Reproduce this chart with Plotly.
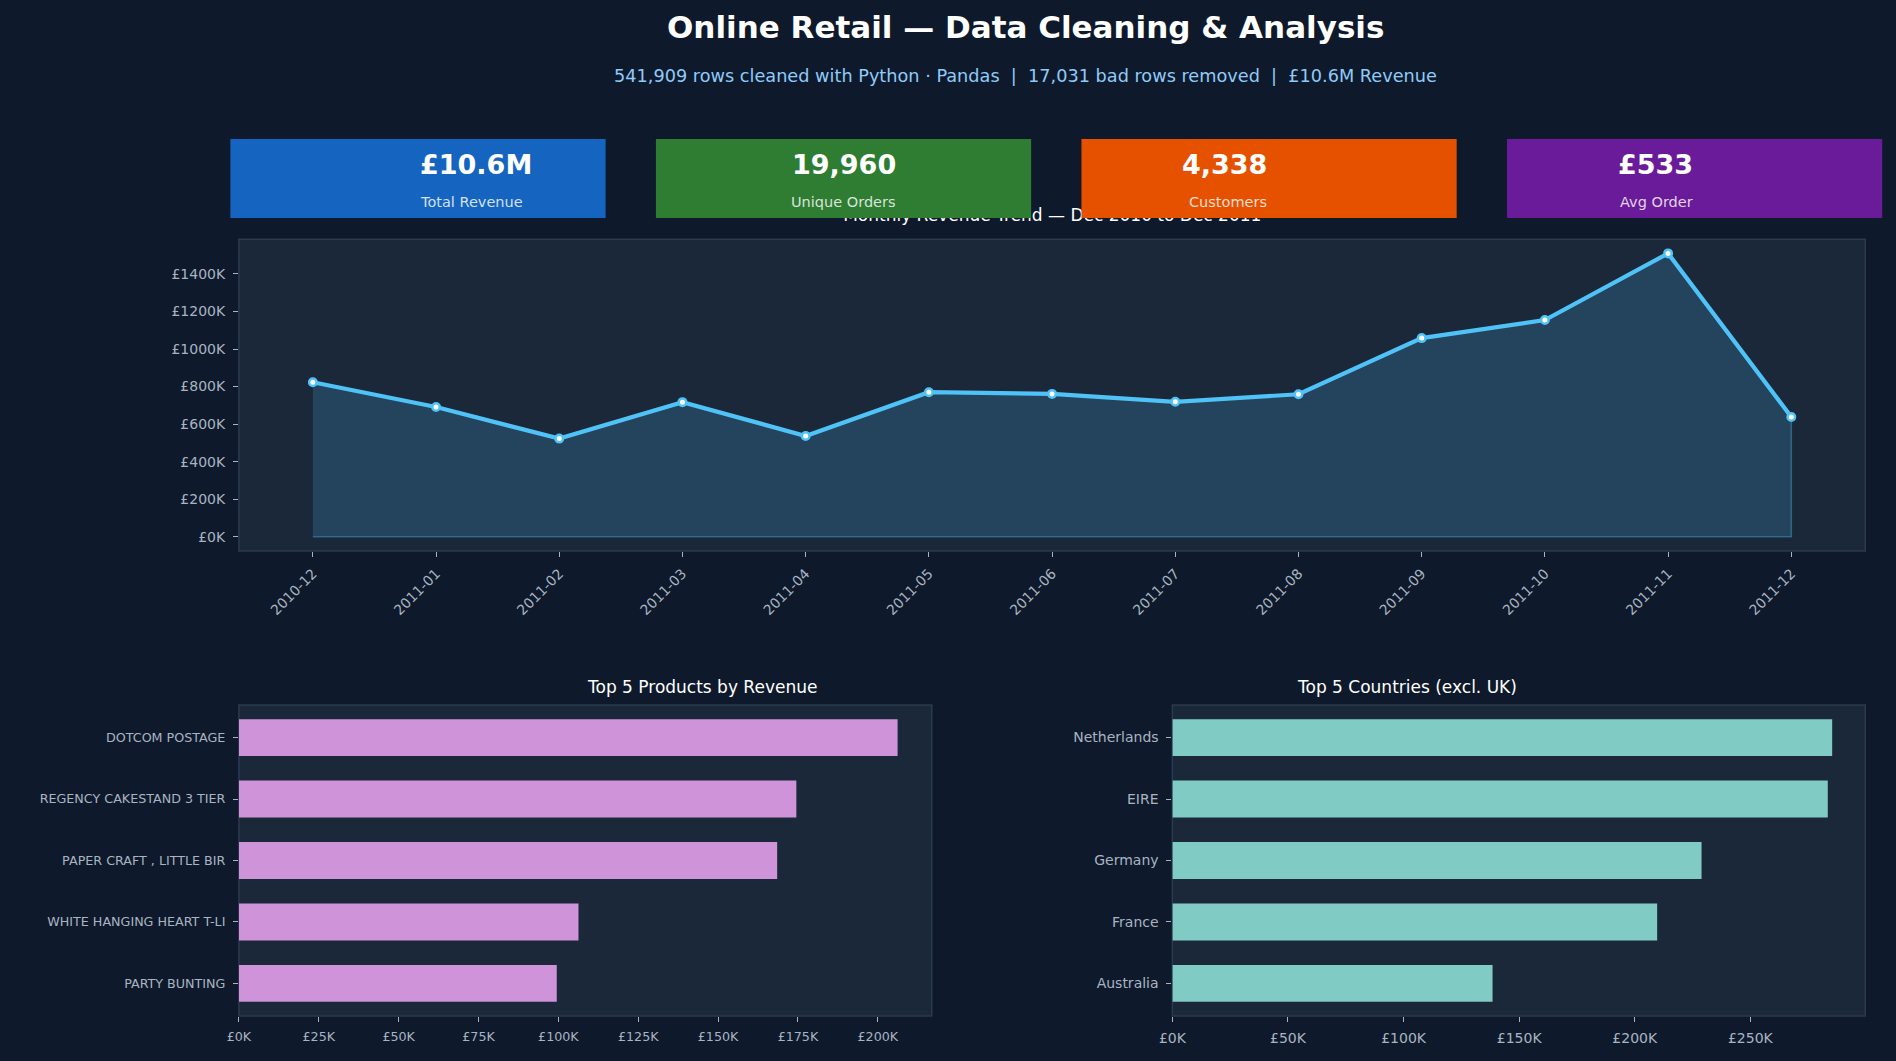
""" Online Retail dashboard - plotly version """

import plotly.graph_objects as go

# monthly revenue in £K
months = ["2010-12", "2011-01", "2011-02", "2011-03", "2011-04", "2011-05", "2011-06",
          "2011-07", "2011-08", "2011-09", "2011-10", "2011-11", "2011-12"]
monthly_revenue = [823, 691, 523, 717, 537, 770, 761, 719, 759, 1058, 1154, 1509, 638]

# top products (£K)
products = ["DOTCOM POSTAGE", "REGENCY CAKESTAND 3 TIER", "PAPER CRAFT , LITTLE BIR",
            "WHITE HANGING HEART T-LI", "PARTY BUNTING"]
product_revenue = [206.2, 174.5, 168.5, 106.3, 99.5]

# top countries excl. UK (£K)
countries = ["Netherlands", "EIRE", "Germany", "France", "Australia"]
country_revenue = [285.4, 283.5, 228.9, 209.7, 138.5]

# KPI cards
kpi_values = ["£10.6M", "19,960", "4,338", "£533"]
kpi_labels = ["Total Revenue", "Unique Orders", "Customers", "Avg Order"]
kpi_colors = ["#1565c0", "#2e7d32", "#e65100", "#6a1b9a"]

BG = "#0e1a2b"
PANEL = "#1b283a"
EDGE = "#2b3a4f"
TICK = "#a9b4c2"
FONT = "DejaVu Sans"
W, H = 1896, 1061


def px_x(v):
    return v / W


def px_y(v):
    return 1 - v / H


fig = go.Figure()

# monthly trend: filled area polygon + line
fig.add_trace(go.Scatter(
    x=months + [months[-1], months[0]],
    y=monthly_revenue + [0, 0],
    fill="toself", fillcolor="rgba(79,195,247,0.18)",
    line=dict(color="rgba(79,195,247,0.35)", width=1.5),
    mode="lines", hoverinfo="skip", xaxis="x", yaxis="y"))
fig.add_trace(go.Scatter(
    x=months, y=monthly_revenue, mode="lines+markers",
    line=dict(color="#4fc3f7", width=4.2),
    marker=dict(size=7.5, color="white", line=dict(color="#4fc3f7", width=2.5)),
    xaxis="x", yaxis="y"))

fig.add_trace(go.Bar(x=product_revenue, y=products, orientation="h",
                     marker=dict(color="#ce93d8", line=dict(width=0)),
                     xaxis="x2", yaxis="y2"))
fig.add_trace(go.Bar(x=country_revenue, y=countries, orientation="h",
                     marker=dict(color="#80cbc4", line=dict(width=0)),
                     xaxis="x3", yaxis="y3"))

# line chart title sits under the KPI cards, so it's a text trace on an overlay axis
fig.add_trace(go.Scatter(
    x=[px_x(1046)], y=[px_y(217)], mode="text",
    text=["Monthly Revenue Trend — Dec 2010 to Dec 2011"],
    textposition="middle center",
    textfont=dict(family=FONT, size=17, color="white"),
    cliponaxis=False, hoverinfo="skip", xaxis="x4", yaxis="y4"))

tickfont = dict(family=FONT, size=14, color=TICK)
small_tickfont = dict(family=FONT, size=12.7, color=TICK)
axis_common = dict(showgrid=False, zeroline=False, showline=False, ticks="outside",
                   ticklen=5, tickwidth=1.2, tickcolor=TICK, fixedrange=True)

fig.update_layout(
    width=W, height=H,
    margin=dict(l=0, r=0, t=0, b=0),
    paper_bgcolor=BG, plot_bgcolor="rgba(0,0,0,0)",
    showlegend=False, bargap=0.4,
    font=dict(family=FONT, color="white"),
    xaxis=dict(axis_common, domain=[px_x(226.6), px_x(1865)], anchor="y",
               type="category", range=[-0.6, 12.6], tickangle=-45, tickfont=tickfont,
               ticklabelstandoff=3),
    yaxis=dict(axis_common, domain=[px_y(551), px_y(239.3)], anchor="x",
               range=[-75.4, 1584], tickvals=list(range(0, 1401, 200)),
               ticktext=["£%dK" % v for v in range(0, 1401, 200)], tickfont=tickfont,
               ticklabelstandoff=5),
    xaxis2=dict(axis_common, domain=[px_x(226.6), px_x(924.6)], anchor="y2",
                range=[0, 216.9], tickvals=list(range(0, 201, 25)),
                ticktext=["£%dK" % v for v in range(0, 201, 25)], tickfont=small_tickfont,
                ticklabelstandoff=4),
    yaxis2=dict(axis_common, domain=[px_y(1016), px_y(705)], anchor="x2",
                type="category", range=[4.53, -0.53], tickfont=small_tickfont,
                ticklabelstandoff=5),
    xaxis3=dict(axis_common, domain=[px_x(1167), px_x(1865)], anchor="y3",
                range=[0, 299.7], tickvals=list(range(0, 251, 50)),
                ticktext=["£%dK" % v for v in range(0, 251, 50)], tickfont=tickfont,
                ticklabelstandoff=4),
    yaxis3=dict(axis_common, domain=[px_y(1016), px_y(705)], anchor="x3",
                type="category", range=[4.53, -0.53], tickfont=tickfont,
                ticklabelstandoff=5),
    xaxis4=dict(domain=[0, 1], range=[0, 1], visible=False, fixedrange=True, anchor="y4"),
    yaxis4=dict(domain=[0, 1], range=[0, 1], visible=False, fixedrange=True, anchor="x4"),
)

# panel backgrounds
for xr, yr in [("x", "y"), ("x2", "y2"), ("x3", "y3")]:
    fig.add_shape(type="rect", xref=xr + " domain", yref=yr + " domain",
                  x0=0, x1=1, y0=0, y1=1, layer="below",
                  fillcolor=PANEL, line=dict(color=EDGE, width=1.5))

# headline + subtitle (centred a bit right of the page middle, like the original)
fig.add_annotation(text="Online Retail — Data Cleaning & Analysis",
                   x=px_x(1019), y=px_y(27), xref="paper", yref="paper", showarrow=False,
                   yanchor="middle", font=dict(family=FONT, size=31, color="white", weight="bold"))
fig.add_annotation(text="541,909 rows cleaned with Python · Pandas \u00a0|\u00a0 17,031 bad rows removed \u00a0|\u00a0 £10.6M Revenue",
                   x=px_x(1019), y=px_y(76), xref="paper", yref="paper", showarrow=False,
                   yanchor="middle", font=dict(family=FONT, size=17.7, color="#90caf9"))

# subplot titles
for title, x0, x1 in [("Top 5 Products by Revenue", 226.6, 924.6),
                      ("Top 5 Countries (excl. UK)", 1167, 1865)]:
    fig.add_annotation(text=title, x=px_x((x0 + x1) / 2), y=px_y(687),
                       xref="paper", yref="paper", showarrow=False, yanchor="middle",
                       font=dict(family=FONT, size=17, color="white"))

# KPI cards
card_w, step, left, top, bottom = 378, 428.7, 218, 139, 218
for i, (val, lab, col) in enumerate(zip(kpi_values, kpi_labels, kpi_colors)):
    x0 = left + i * step
    fig.add_shape(type="rect", xref="paper", yref="paper", layer="above",
                  x0=px_x(x0), x1=px_x(x0 + card_w), y0=px_y(bottom), y1=px_y(top),
                  fillcolor=col, line=dict(width=0))
    cx = px_x(x0 + card_w / 2)
    fig.add_annotation(text=val, x=cx, y=px_y(164), xref="paper", yref="paper",
                       showarrow=False, yanchor="middle",
                       font=dict(family=FONT, size=27, color="white", weight="bold"))
    fig.add_annotation(text=lab, x=cx, y=px_y(202), xref="paper", yref="paper",
                       showarrow=False, yanchor="middle",
                       font=dict(family=FONT, size=14.5, color="rgba(255,255,255,0.82)"))

# drop the default page margin so the figure fills the window, no modebar
fig.write_html("out.html", config={"displayModeBar": False},
               post_script="document.body.style.margin = '0';")
